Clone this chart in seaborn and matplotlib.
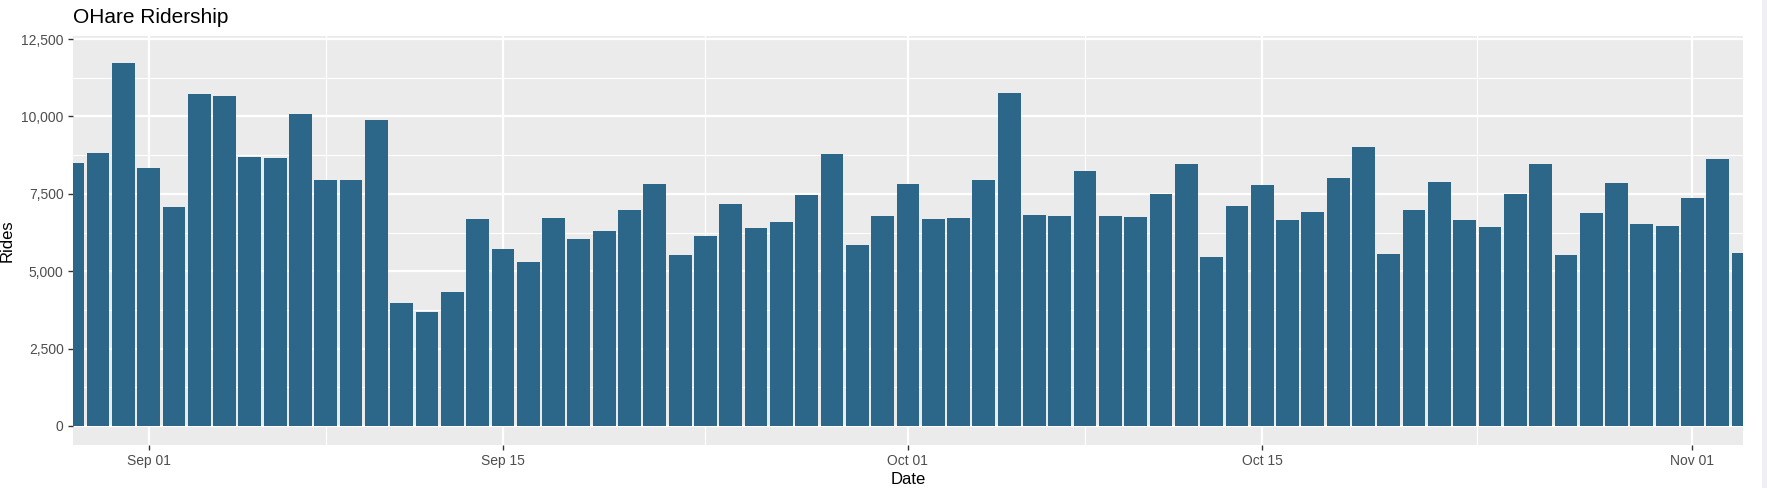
import pandas as pd
import numpy as np
import matplotlib
matplotlib.use("Agg")
import matplotlib.pyplot as plt
import matplotlib.dates as mdates
from matplotlib.patches import Rectangle
from matplotlib.ticker import FuncFormatter, FixedLocator
import seaborn as sns

# daily rides at O'Hare, Aug 29 - Nov 3
start_date = "2018-08-29"
rides = [8505, 8829, 11735, 8344, 7085, 10734, 10670, 8699, 8667, 10088,
         7956, 7956, 9894, 3984, 3693, 4339, 6697, 5728, 5308, 6729,
         6051, 6309, 6987, 7827, 5534, 6148, 7181, 6406, 6600, 7472,
         8796, 5857, 6794, 7827, 6697, 6729, 7956, 10767, 6826, 6794,
         8247, 6794, 6762, 7504, 8473, 5469, 7117, 7795, 6665, 6923,
         8021, 9022, 5566, 6987, 7892, 6665, 6438, 7504, 8473, 5534,
         6891, 7860, 6535, 6471, 7375, 8635, 5599]
major_dates = ["2018-09-01", "2018-09-15", "2018-10-01", "2018-10-15", "2018-11-01"]
y_ticks = [0, 2500, 5000, 7500, 10000, 12500]

df = pd.DataFrame({
    "date": pd.date_range(start_date, periods=len(rides), freq="D"),
    "rides": rides,
})
df["x"] = mdates.date2num(df["date"])

plt.rcParams["font.family"] = ["Liberation Sans", "DejaVu Sans"]

fig = plt.figure(figsize=(17.67, 4.88), dpi=100)
ax = fig.add_axes([72.7 / 1767, 43.5 / 488, 1670.4 / 1767, 408.5 / 488])
ax.set_facecolor("#EBEBEB")

sns.barplot(data=df, x="x", y="rides", native_scale=True, width=0.9,
            color="#2C6688", saturation=1, ax=ax, zorder=3)

# x axis: dates
major = mdates.date2num(pd.to_datetime(major_dates))
minor = (major[:-1] + major[1:]) / 2
ax.xaxis.set_major_locator(FixedLocator(major))
ax.xaxis.set_minor_locator(FixedLocator(minor))
ax.xaxis.set_major_formatter(mdates.DateFormatter("%b %d"))
ax.set_xlim(df["x"].iloc[0], df["x"].iloc[-1])

# y axis
ax.set_ylim(-600, 12600)
ax.yaxis.set_major_locator(FixedLocator(y_ticks))
ax.yaxis.set_minor_locator(FixedLocator([1250, 3750, 6250, 8750, 11250]))
ax.yaxis.set_major_formatter(FuncFormatter(lambda v, p: f"{int(v):,}"))

ax.grid(which="major", color="white", linewidth=1.6, zorder=0)
ax.grid(which="minor", color="white", linewidth=0.8, zorder=0)
ax.set_axisbelow(True)
for s in ax.spines.values():
    s.set_visible(False)

ax.tick_params(axis="both", which="major", length=3.5, width=1, color="#333333",
               labelsize=10, labelcolor="#4D4D4D", pad=3)
ax.tick_params(axis="both", which="minor", length=0)

ax.set_xlabel("Date", fontsize=12, color="black", labelpad=3)
ax.set_ylabel("Rides", fontsize=12, color="black", labelpad=5)

fig.text(72.7 / 1767, 1 - 23.3 / 488, "OHare Ridership", fontsize=15,
         ha="left", va="baseline", color="black")

# thin light strip at the right border
fig.patches.append(Rectangle((1762 / 1767, 0), 5 / 1767, 1, transform=fig.transFigure,
                             facecolor="#EEF0F5", edgecolor="none"))

fig.savefig("out.png", dpi=100)
